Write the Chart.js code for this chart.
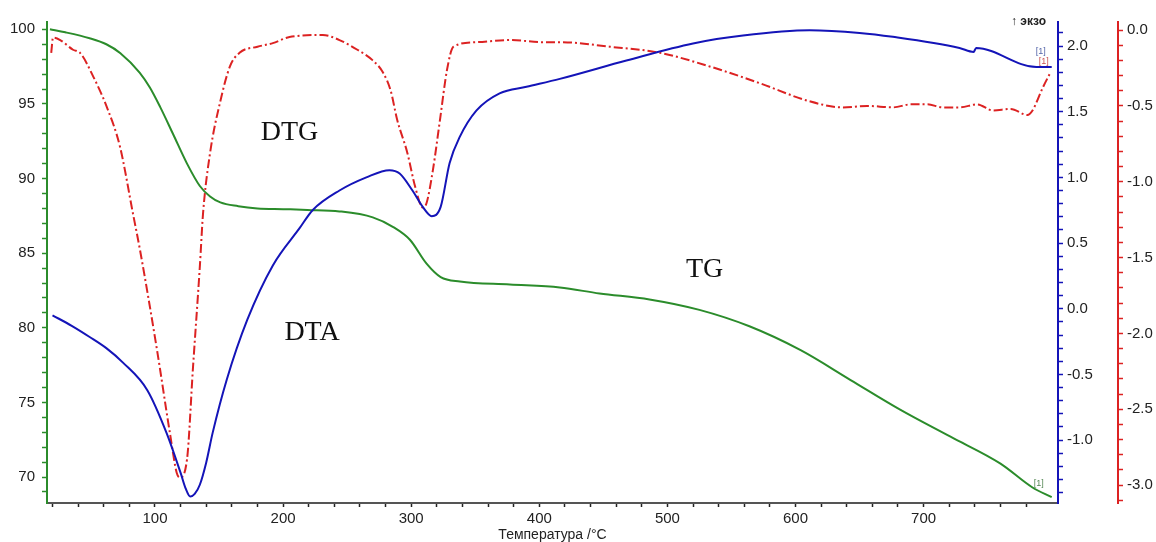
<!DOCTYPE html>
<html>
<head>
<meta charset="utf-8">
<script src="https://cdn.jsdelivr.net/npm/chart.js@4.4.0/dist/chart.umd.min.js"></script>
<style>
  html, body { margin: 0; padding: 0; background: #fff; }
</style>
</head>
<body>
<canvas id="chart" width="1156" height="542"></canvas>
<script>
// TG, % (green, left axis)
const tgTemp = [18, 30, 49, 62, 73, 88, 96, 104, 114, 125, 135, 143, 151, 165, 180, 200, 219, 244, 270, 286, 299, 312, 323, 338, 377, 416, 447, 486, 525, 564, 604, 643, 682, 721, 760, 785, 800];
const tgMass = [100.0, 99.8, 99.4, 99.0, 98.4, 97.1, 96.1, 94.8, 93.0, 91.0, 89.5, 88.8, 88.4, 88.15, 88.0, 87.95, 87.9, 87.8, 87.4, 86.75, 85.9, 84.3, 83.4, 83.1, 82.9, 82.7, 82.3, 81.9, 81.2, 80.1, 78.5, 76.5, 74.5, 72.7, 70.9, 69.3, 68.65];

// DTA (blue, first right axis)
const dtaTemp = [20, 35, 49, 62, 75, 94, 109, 120, 124, 127.5, 131, 135, 140, 145, 156, 172, 192, 213, 223, 244, 265, 283, 291, 301, 309, 316, 323, 330, 338, 351, 369, 390, 416, 468, 520, 559, 611, 650, 676, 728, 739, 741, 788, 800];
const dtaValue = [-0.05, -0.13, -0.215, -0.30, -0.41, -0.62, -0.945, -1.25, -1.37, -1.43, -1.41, -1.34, -1.17, -0.945, -0.54, -0.085, 0.33, 0.615, 0.75, 0.90, 1.0, 1.055, 1.03, 0.90, 0.775, 0.705, 0.775, 1.11, 1.31, 1.51, 1.64, 1.69, 1.75, 1.89, 2.02, 2.08, 2.12, 2.10, 2.07, 1.985, 1.955, 1.985, 1.84, 1.84];

// DTG (red dash-dot, outer right axis)
const dtgTemp = [19, 20.4, 26, 36, 41.5, 52, 62.5, 72.7, 82.8, 88.3, 101.6, 111.7, 117, 119.5, 125, 129.7, 135, 137.5, 143, 150.7, 158.5, 166, 180, 192, 205, 231, 244, 258, 270, 278, 284, 289, 297, 303, 309, 312, 317, 322.5, 328, 333, 351, 377, 403, 416, 455, 494, 533, 572, 611, 637, 656, 676, 690, 703, 715, 728, 742, 754, 768, 781, 785, 793, 799];
const dtgValue = [-0.15, -0.05, -0.066, -0.13, -0.15, -0.31, -0.51, -0.77, -1.21, -1.45, -2.11, -2.66, -2.92, -2.95, -2.83, -2.22, -1.56, -1.21, -0.81, -0.48, -0.24, -0.15, -0.11, -0.086, -0.046, -0.033, -0.066, -0.13, -0.20, -0.28, -0.40, -0.59, -0.81, -1.03, -1.17, -1.14, -0.92, -0.59, -0.26, -0.11, -0.08, -0.066, -0.08, -0.08, -0.11, -0.15, -0.24, -0.35, -0.47, -0.51, -0.50, -0.51, -0.49, -0.49, -0.51, -0.51, -0.49, -0.53, -0.52, -0.56, -0.53, -0.38, -0.28];

// tick labels
const tempLabels = [100, 200, 300, 400, 500, 600, 700];
const tgLabels = [70, 75, 80, 85, 90, 95, 100];
const dtaLabels = [-1.0, -0.5, 0.0, 0.5, 1.0, 1.5, 2.0];
const dtgLabels = [-3.0, -2.5, -2.0, -1.5, -1.0, -0.5, 0.0];

const GREEN = '#2b8c2b', BLUE = '#1414b8', RED = '#dc2222';
const FONT = '"Liberation Sans", Arial, sans-serif';

function pts(xs, ys) { return xs.map((x, i) => ({ x: x, y: ys[i] })); }
function stepTicks(from, to, step) {
  const out = [];
  const n = Math.round((to - from) / step);
  for (let i = 0; i <= n; i++) out.push({ value: Math.round((from + i * step) * 100) / 100 });
  return out;
}
const near = (v, list) => list.some(l => Math.abs(l - v) < 1e-6);

const labelsPlugin = {
  id: 'labels',
  afterDatasetsDraw(chart) {
    const { ctx, scales } = chart;
    const x = scales.x, tg = scales.yTG, dta = scales.yDTA, dtg = scales.yDTG;
    ctx.save();
    ctx.fillStyle = '#111';
    ctx.font = '28px "Liberation Serif", "Times New Roman", serif';
    ctx.textAlign = 'center';
    ctx.textBaseline = 'middle';
    ctx.fillText('DTG', x.getPixelForValue(205), tg.getPixelForValue(93.05));
    ctx.fillText('DTA', x.getPixelForValue(222.6), tg.getPixelForValue(79.7));
    ctx.fillText('TG', x.getPixelForValue(529), tg.getPixelForValue(83.9));

    ctx.font = '9px ' + FONT;
    ctx.textAlign = 'right';
    ctx.textBaseline = 'bottom';
    const xe = x.getPixelForValue(800);
    ctx.fillStyle = '#5566aa';
    ctx.fillText('[1]', xe - 6, dta.getPixelForValue(dtaValue[dtaValue.length - 1]) - 11);
    ctx.fillStyle = '#cc5555';
    ctx.fillText('[1]', xe - 3, dtg.getPixelForValue(dtgValue[dtgValue.length - 1]) - 6);
    ctx.fillStyle = '#558855';
    ctx.fillText('[1]', xe - 8, tg.getPixelForValue(tgMass[tgMass.length - 1]) - 9);

    ctx.fillStyle = '#222';
    ctx.font = 'bold 12px ' + FONT;
    ctx.textAlign = 'right';
    ctx.textBaseline = 'alphabetic';
    ctx.fillText('\u2191 экзо', x.right - 12, 25);
    ctx.restore();
  }
};

new Chart(document.getElementById('chart'), {
  type: 'line',
  data: {
    datasets: [
      {
        label: 'DTA',
        data: pts(dtaTemp, dtaValue),
        yAxisID: 'yDTA',
        borderColor: BLUE,
        borderWidth: 2,
        pointRadius: 0,
        cubicInterpolationMode: 'monotone'
      },
      {
        label: 'TG',
        data: pts(tgTemp, tgMass),
        yAxisID: 'yTG',
        borderColor: GREEN,
        borderWidth: 2,
        pointRadius: 0,
        cubicInterpolationMode: 'monotone'
      },
      {
        label: 'DTG',
        data: pts(dtgTemp, dtgValue),
        yAxisID: 'yDTG',
        borderColor: RED,
        borderWidth: 2,
        borderDash: [9, 3, 2, 3],
        pointRadius: 0,
        cubicInterpolationMode: 'monotone'
      }
    ]
  },
  options: {
    responsive: false,
    animation: false,
    layout: { padding: { top: 22, left: 0, right: 0, bottom: 0 } },
    plugins: { legend: { display: false }, tooltip: { enabled: false } },
    scales: {
      x: {
        type: 'linear',
        position: 'bottom',
        min: 15.7,
        max: 804.9,
        afterBuildTicks: s => { s.ticks = stepTicks(20, 780, 20); },
        afterFit: s => { s.height = 39; },
        border: { color: '#555', width: 2 },
        grid: { drawOnChartArea: false, tickLength: 4, tickColor: '#222', tickWidth: 1.5 },
        ticks: {
          autoSkip: false, maxRotation: 0, padding: 3, color: '#222',
          font: { family: FONT, size: 15 },
          callback: v => near(v, tempLabels) ? String(v) : ''
        },
        title: {
          display: true, text: 'Температура /°C', color: '#222',
          font: { family: FONT, size: 14, lineHeight: 1 },
          padding: { top: 0, bottom: 0 }
        }
      },
      yTG: {
        type: 'linear',
        position: 'left',
        min: 68.26,
        max: 100.49,
        afterBuildTicks: s => { s.ticks = stepTicks(69, 100, 1); },
        afterFit: s => { s.width = 47; },
        border: { color: GREEN, width: 2 },
        grid: { drawOnChartArea: false, tickLength: 5, tickColor: GREEN, tickWidth: 1.5 },
        ticks: {
          autoSkip: false, padding: 7, color: '#222',
          font: { family: FONT, size: 15 },
          callback: v => near(v, tgLabels) ? String(v) : ''
        }
      },
      yDTA: {
        type: 'linear',
        position: 'right',
        weight: 0,
        min: -1.479,
        max: 2.183,
        afterBuildTicks: s => { s.ticks = stepTicks(-1.4, 2.1, 0.1); },
        afterFit: s => { s.width = 60; },
        border: { color: BLUE, width: 2 },
        grid: { drawOnChartArea: false, tickLength: 5, tickColor: BLUE, tickWidth: 1.5 },
        ticks: {
          autoSkip: false, padding: 4, color: '#222',
          font: { family: FONT, size: 15 },
          callback: v => near(v, dtaLabels) ? v.toFixed(1) : ''
        }
      },
      yDTG: {
        type: 'linear',
        position: 'right',
        weight: 1,
        min: -3.118,
        max: 0.053,
        afterBuildTicks: s => { s.ticks = stepTicks(-3.1, 0, 0.1); },
        afterFit: s => { s.width = 38; },
        border: { color: RED, width: 2 },
        grid: { drawOnChartArea: false, tickLength: 5, tickColor: RED, tickWidth: 1.5 },
        ticks: {
          autoSkip: false, padding: 4, color: '#222',
          font: { family: FONT, size: 15 },
          callback: v => near(v, dtgLabels) ? v.toFixed(1) : ''
        }
      }
    }
  },
  plugins: [labelsPlugin]
});
</script>
</body>
</html>
